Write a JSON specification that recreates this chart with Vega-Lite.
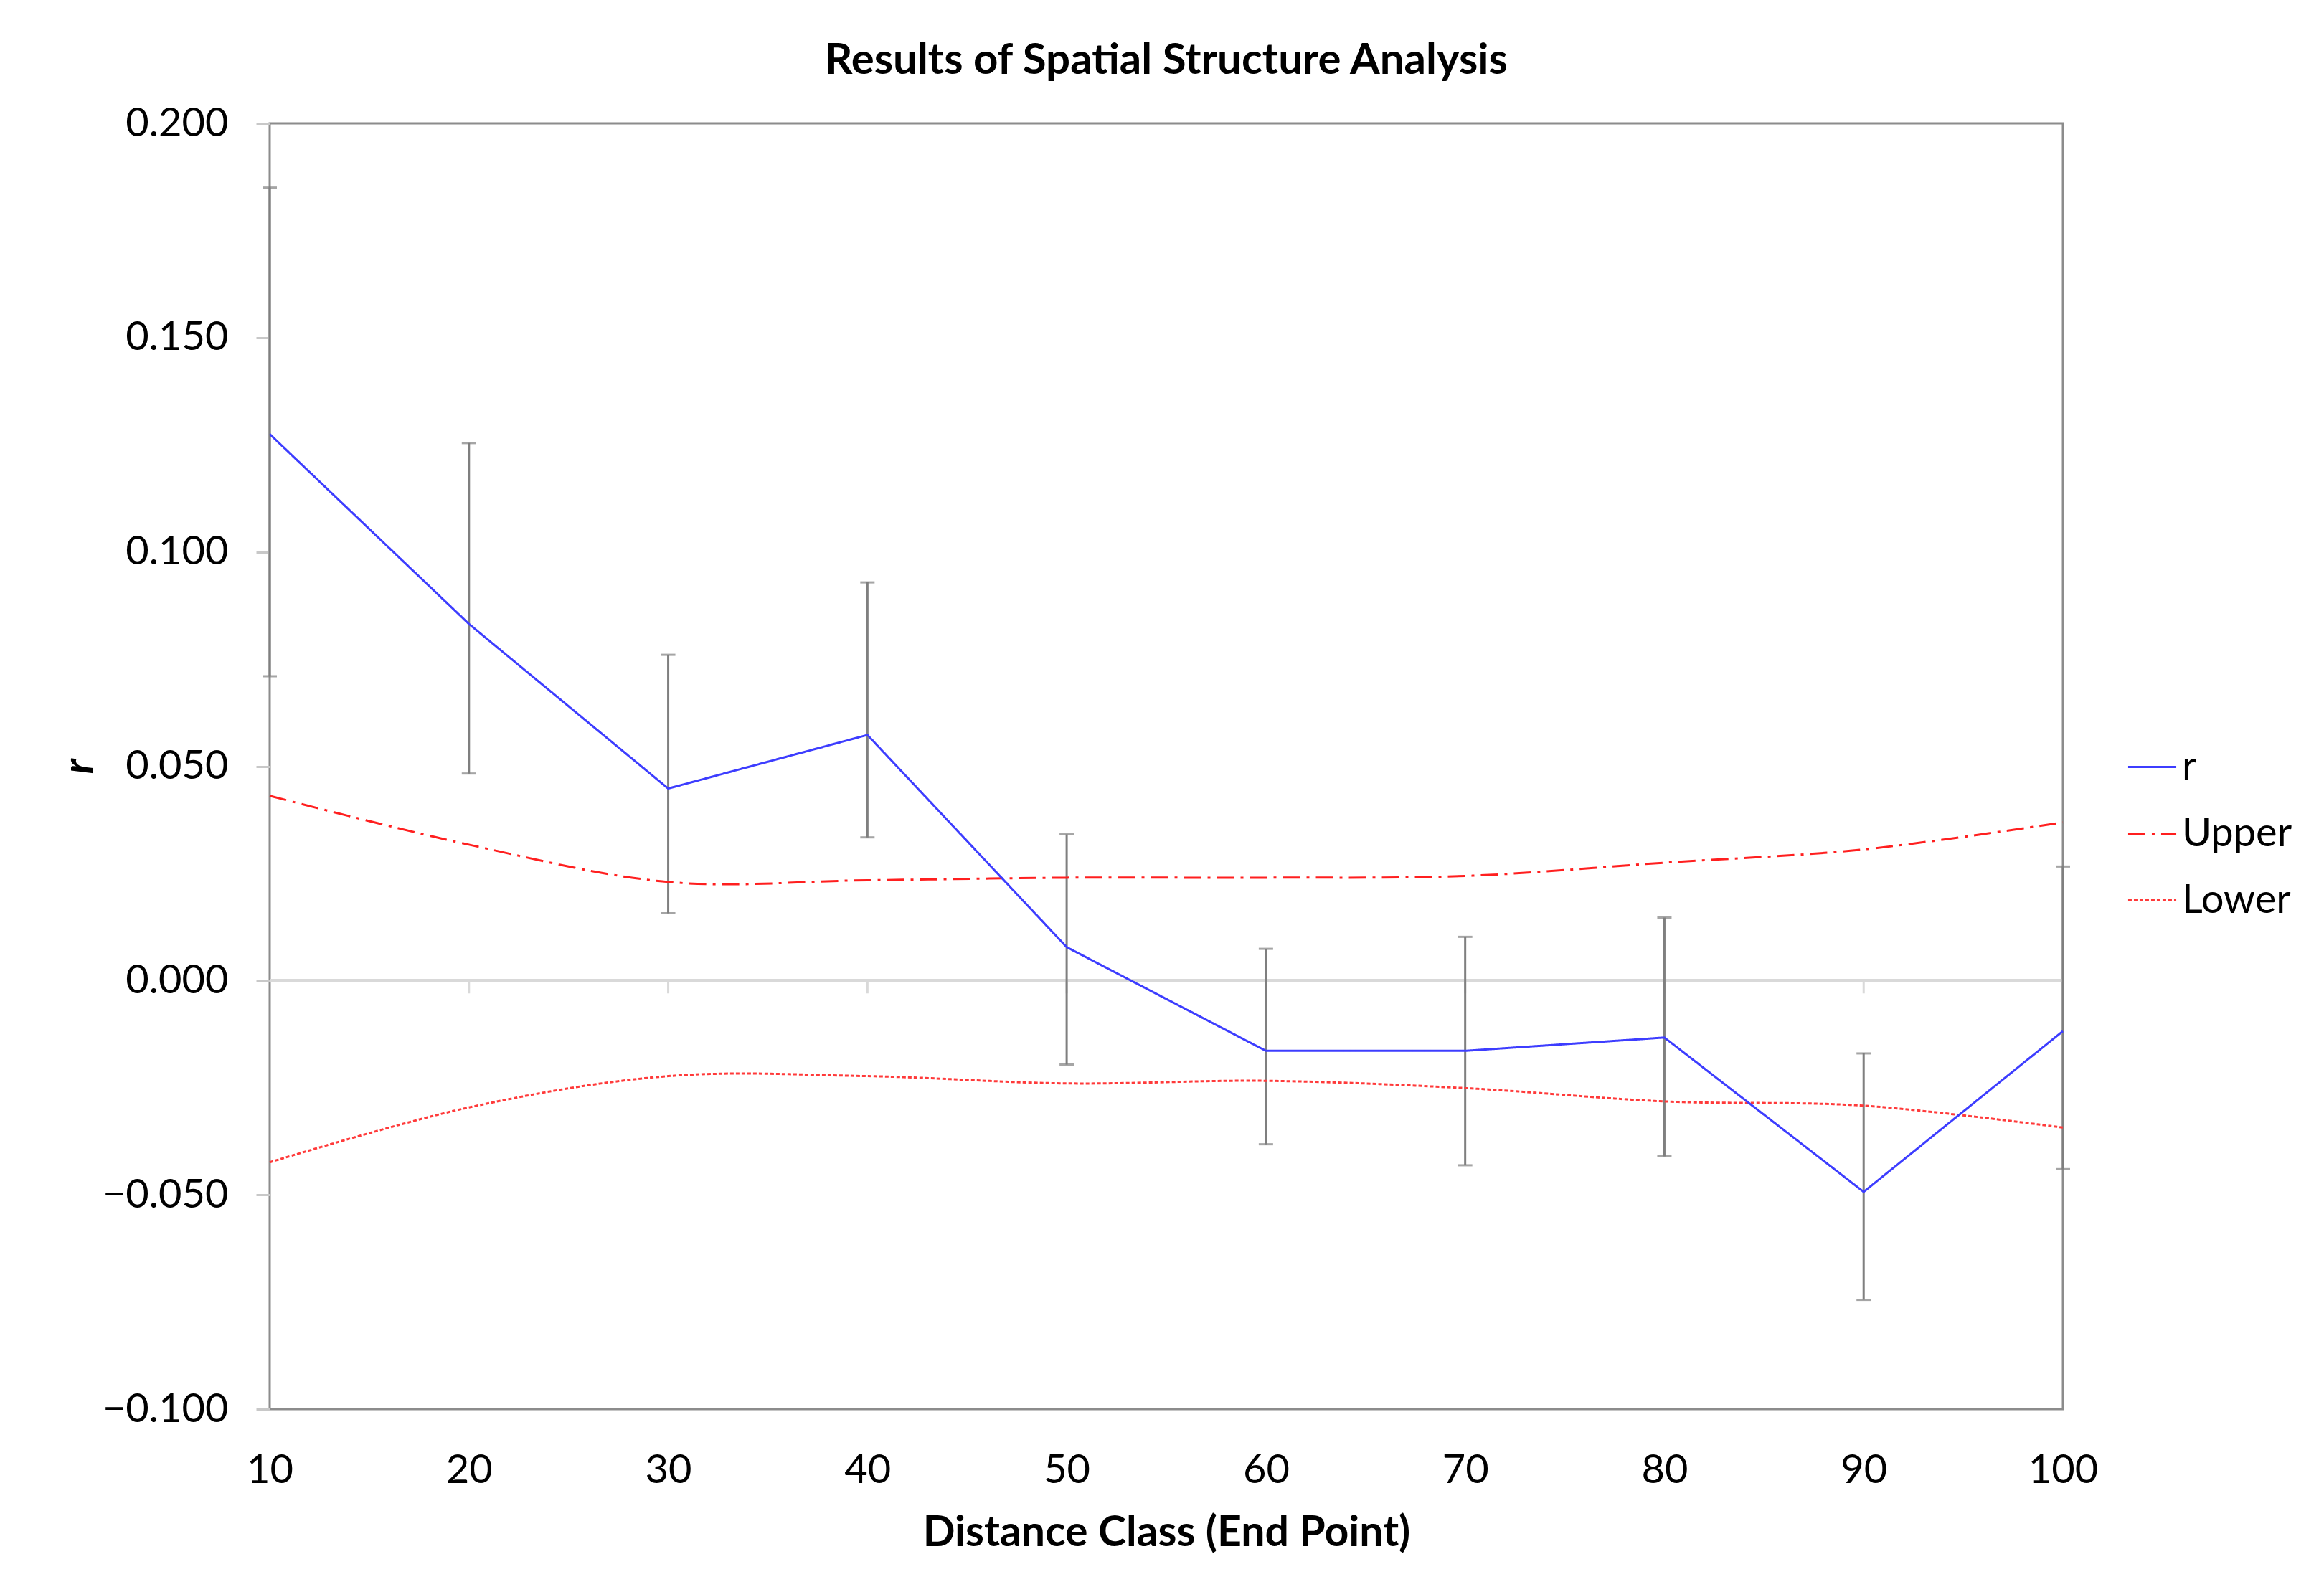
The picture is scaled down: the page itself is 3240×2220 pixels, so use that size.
{
  "$schema": "https://vega.github.io/schema/vega-lite/v6.json",
  "width": 2500,
  "height": 1793,
  "autosize": {"type": "none"},
  "padding": {"left": 376, "top": 172, "right": 364, "bottom": 255},
  "background": "white",
  "config": {
    "font": "Lato",
    "view": {"stroke": "#8c8c8c", "strokeWidth": 3}
  },
  "title": {
    "text": "Results of Spatial Structure Analysis",
    "fontSize": 60,
    "fontWeight": "bold",
    "font": "Lato",
    "color": "#000000",
    "anchor": "middle",
    "offset": 28
  },
  "datasets": {
    "series": [
      {"x": 10, "series": "r", "value": 0.1275},
      {"x": 20, "series": "r", "value": 0.0832},
      {"x": 30, "series": "r", "value": 0.0448},
      {"x": 40, "series": "r", "value": 0.0573},
      {"x": 50, "series": "r", "value": 0.0078},
      {"x": 60, "series": "r", "value": -0.0164},
      {"x": 70, "series": "r", "value": -0.0164},
      {"x": 80, "series": "r", "value": -0.0133},
      {"x": 90, "series": "r", "value": -0.0493},
      {"x": 100, "series": "r", "value": -0.0118},
      {"x": 10, "series": "Upper", "value": 0.0431},
      {"x": 20, "series": "Upper", "value": 0.0317},
      {"x": 30, "series": "Upper", "value": 0.0230},
      {"x": 40, "series": "Upper", "value": 0.0234},
      {"x": 50, "series": "Upper", "value": 0.0240},
      {"x": 60, "series": "Upper", "value": 0.0240},
      {"x": 70, "series": "Upper", "value": 0.0244},
      {"x": 80, "series": "Upper", "value": 0.0275},
      {"x": 90, "series": "Upper", "value": 0.0306},
      {"x": 100, "series": "Upper", "value": 0.0369},
      {"x": 10, "series": "Lower", "value": -0.0424},
      {"x": 20, "series": "Lower", "value": -0.0296},
      {"x": 30, "series": "Lower", "value": -0.0223},
      {"x": 40, "series": "Lower", "value": -0.0223},
      {"x": 50, "series": "Lower", "value": -0.0240},
      {"x": 60, "series": "Lower", "value": -0.0234},
      {"x": 70, "series": "Lower", "value": -0.0251},
      {"x": 80, "series": "Lower", "value": -0.0282},
      {"x": 90, "series": "Lower", "value": -0.0292},
      {"x": 100, "series": "Lower", "value": -0.0343}
    ],
    "errors": [
      {"x": 10, "lo": 0.0710, "hi": 0.1850},
      {"x": 20, "lo": 0.0483, "hi": 0.1254},
      {"x": 30, "lo": 0.0157, "hi": 0.0760},
      {"x": 40, "lo": 0.0334, "hi": 0.0929},
      {"x": 50, "lo": -0.0196, "hi": 0.0341},
      {"x": 60, "lo": -0.0382, "hi": 0.0074},
      {"x": 70, "lo": -0.0431, "hi": 0.0102},
      {"x": 80, "lo": -0.0410, "hi": 0.0147},
      {"x": 90, "lo": -0.0745, "hi": -0.0170},
      {"x": 100, "lo": -0.0440, "hi": 0.0266}
    ],
    "cats": [
      {"x": 20}, {"x": 30}, {"x": 40}, {"x": 50}, {"x": 60}, {"x": 70}, {"x": 80}, {"x": 90}
    ]
  },
  "layer": [
    {
      "data": {"name": "cats"},
      "mark": {"type": "rule", "color": "#d9d9d9", "strokeWidth": 4},
      "encoding": {
        "y": {"datum": 0, "type": "quantitative", "title": "r"}
      }
    },
    {
      "data": {"name": "cats"},
      "mark": {"type": "rule", "color": "#d9d9d9", "strokeWidth": 3},
      "encoding": {
        "x": {"field": "x", "type": "quantitative", "title": "Distance Class (End Point)"},
        "y": {"datum": 0, "type": "quantitative", "title": "r"},
        "y2": {"datum": -0.003}
      }
    },
    {
      "data": {"name": "errors"},
      "mark": {"type": "errorbar", "color": "#7f7f7f", "thickness": 3, "ticks": {"size": 20, "color": "#7f7f7f", "thickness": 3}},
      "encoding": {
        "x": {"field": "x", "type": "quantitative", "title": "Distance Class (End Point)"},
        "y": {"field": "lo", "type": "quantitative", "title": "r"},
        "y2": {"field": "hi"}
      }
    },
    {
      "data": {"name": "series"},
      "transform": [{"filter": "datum.series !== 'r'"}],
      "mark": {"type": "line", "strokeWidth": 3, "interpolate": "catmull-rom"},
      "encoding": {
        "x": {"field": "x", "type": "quantitative", "title": "Distance Class (End Point)"},
        "y": {"field": "value", "type": "quantitative", "title": "r"},
        "color": {"field": "series", "type": "nominal", "scale": {"domain": ["r", "Upper", "Lower"], "range": ["#3d3dff", "#ff1f1f", "#ff3a3a"]}},
        "strokeDash": {"field": "series", "type": "nominal", "scale": {"domain": ["r", "Upper", "Lower"], "range": [[1, 0], [24, 9, 4, 9], [5, 3]]}}
      }
    },
    {
      "data": {"name": "series"},
      "mark": {"type": "line", "strokeWidth": 3},
      "transform": [{"filter": "datum.series === 'r'"}],
      "encoding": {
        "x": {
          "field": "x",
          "type": "quantitative",
          "title": "Distance Class (End Point)",
          "scale": {"domain": [10, 100], "nice": false, "zero": false},
          "axis": {
            "values": [10, 20, 30, 40, 50, 60, 70, 80, 90, 100],
            "titleFontSize": 59,
            "titleFontWeight": "bold",
            "titleColor": "#000000",
            "titlePadding": 30,
            "labelFontSize": 56,
            "labelColor": "#000000",
            "labelPadding": 58,
            "labelFlush": false,
            "ticks": false,
            "domain": false,
            "grid": false
          }
        },
        "y": {
          "field": "value",
          "type": "quantitative",
          "title": "r",
          "scale": {"domain": [-0.1, 0.2], "nice": false, "zero": false},
          "axis": {
            "values": [-0.1, -0.05, 0, 0.05, 0.1, 0.15, 0.2],
            "format": ".3f",
            "titleFontSize": 60,
            "titleFontWeight": "bold",
            "titleFontStyle": "italic",
            "titleColor": "#000000",
            "titlePadding": 34,
            "labelFontSize": 56,
            "labelColor": "#000000",
            "labelPadding": 39,
            "labelFlush": false,
            "tickSize": 19,
            "tickWidth": 3,
            "tickColor": "#c8c8c8",
            "domain": false,
            "grid": false
          }
        },
        "color": {
          "field": "series",
          "type": "nominal",
          "scale": {"domain": ["r", "Upper", "Lower"], "range": ["#3d3dff", "#ff1f1f", "#ff3a3a"]},
          "legend": {
            "orient": "none",
            "legendX": 2589,
            "legendY": 862,
            "title": null,
            "symbolType": "stroke",
            "symbolSize": 4500,
            "symbolStrokeWidth": 3,
            "labelFontSize": 56,
            "labelColor": "#000000",
            "labelOffset": 6,
            "rowPadding": 29
          }
        },
        "strokeDash": {
          "field": "series",
          "type": "nominal",
          "scale": {"domain": ["r", "Upper", "Lower"], "range": [[1, 0], [24, 9, 4, 9], [5, 3]]}
        }
      }
    }
  ]
}
